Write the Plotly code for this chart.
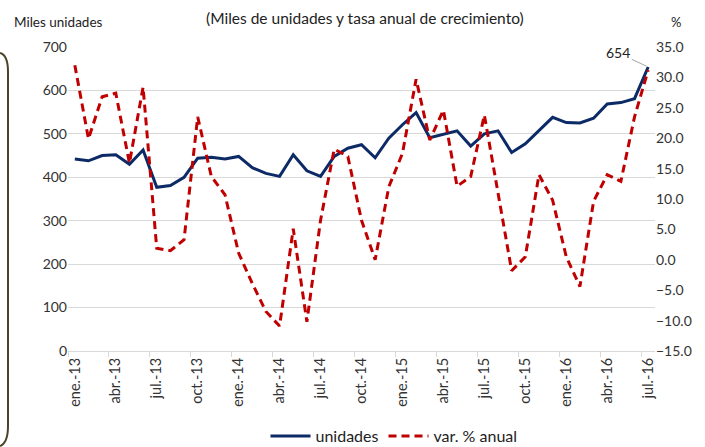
import plotly.graph_objects as go

meses = ['ene', 'feb', 'mar', 'abr', 'may', 'jun', 'jul', 'ago', 'sep', 'oct', 'nov', 'dic']
periodos = [f'{m}.-{a}' for a in ['13', '14', '15'] for m in meses] + [f'{m}.-16' for m in meses[:7]]

unidades = [442, 438, 450, 452, 430, 463, 377, 381, 400, 444, 446, 442,
            448, 422, 409, 402, 452, 415, 402, 448, 467, 475, 445, 490,
            521, 549, 491, 499, 507, 472, 500, 507, 457, 477, 507, 538,
            526, 525, 536, 569, 572, 581, 654]

var_anual = [32.0, 19.9, 26.8, 27.4, 15.9, 28.4, 1.9, 1.5, 3.3, 23.5, 13.7, 10.7,
             1.1, -3.9, -8.5, -10.9, 5.1, -10.2, 6.5, 18.2, 17.0, 6.5, 0.0, 12.0,
             17.5, 29.7, 19.7, 24.6, 12.1, 13.7, 23.8, 11.0, -1.8, 0.5, 14.0, 9.8,
             0.5, -4.4, 9.6, 14.0, 12.9, 23.5, 31.2]

FONT = 'Lato, Open Sans, sans-serif'
x = list(range(len(periodos)))

fig = go.Figure()
fig.add_trace(go.Scatter(x=x, y=unidades, name='unidades', mode='lines',
                         line=dict(color='#0B2A66', width=3)))
fig.add_trace(go.Scatter(x=x, y=var_anual, name='var. % anual', mode='lines', yaxis='y2',
                         line=dict(color='#C00000', width=3, dash='8px,5px')))

# plot area in pixels: left 68, right 655, top 47, bottom 351
L, R, T, B = 68, 655, 47, 351
def px(xp):
    return (xp - L) / (R - L)
def py(yp):
    return (B - yp) / (B - T)

marco = (f'M {px(0)},{py(53)} Q {px(8)},{py(55)} {px(8)},{py(72)} '
         f'L {px(8)},{py(426)} Q {px(8)},{py(443)} {px(0)},{py(446)}')

fig.update_layout(
    width=705, height=447,
    margin=dict(l=L, r=705 - R, t=T, b=447 - B, autoexpand=False),
    plot_bgcolor='white', paper_bgcolor='white',
    font=dict(family=FONT, size=14, color='#333333'),
    showlegend=True,
    legend=dict(orientation='h', x=px(394), y=py(436), xanchor='center', yanchor='middle',
                font=dict(size=16, color='#222222'), itemwidth=40, tracegroupgap=0),
    xaxis=dict(range=[-0.5, 42.5], tickmode='array', tickvals=x[::3], ticktext=periodos[::3],
               tickangle=-90, ticks='', showgrid=False, showline=True, linecolor='#D9D9D9',
               linewidth=1, zeroline=False, automargin=False,
               tickfont=dict(size=14.5, color='#333333'),
               minor=dict(tickmode='linear', tick0=-0.5, dtick=3, ticks='outside',
                          ticklen=5, tickcolor='#D9D9D9', showgrid=False)),
    yaxis=dict(range=[0, 700], dtick=100, showgrid=True, gridcolor='#D9D9D9', gridwidth=1,
               zeroline=False, showline=False, ticks='', automargin=False,
               tickfont=dict(size=14)),
    yaxis2=dict(range=[-15, 35], dtick=5, tickformat='.1f', overlaying='y', side='right',
                showgrid=False, zeroline=False, showline=False, ticks='', automargin=False,
                tickfont=dict(size=14)),
    shapes=[dict(type='path', xref='paper', yref='paper', path=marco,
                 line=dict(color='#4A4529', width=2))],
    annotations=[
        dict(text='(Miles de unidades y tasa anual de crecimiento)', xref='paper', yref='paper',
             x=px(365), y=py(18), xanchor='center', yanchor='middle', showarrow=False,
             font=dict(size=15.5, color='#222222')),
        dict(text='Miles unidades', xref='paper', yref='paper', x=px(12), y=py(22),
             xanchor='left', yanchor='middle', showarrow=False,
             font=dict(size=13.5, color='#222222')),
        dict(text='%', xref='paper', yref='paper', x=px(676), y=py(22),
             xanchor='center', yanchor='middle', showarrow=False,
             font=dict(size=13, color='#222222')),
        dict(text='654', x=x[-1], y=unidades[-1], ax=-30, ay=-14, showarrow=True,
             arrowhead=0, arrowwidth=1, arrowcolor='#A6A6A6', standoff=2,
             font=dict(size=14, color='#222222')),
    ],
)

# the page's default 8px body margin would shift the whole figure
fig.write_html('out.html', config={'displayModeBar': False},
               post_script="document.body.style.margin='0';")
